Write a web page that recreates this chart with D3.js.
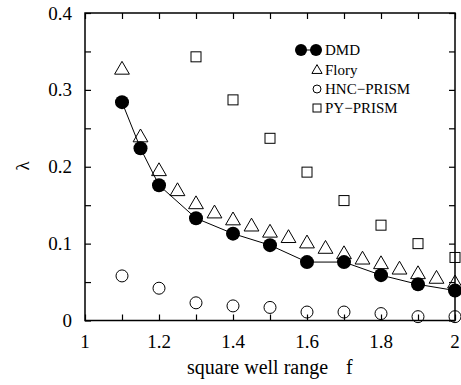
<!DOCTYPE html>
<html>
<head>
<meta charset="utf-8">
<script src="https://cdn.jsdelivr.net/npm/d3@7"></script>
<style>
  html, body { margin: 0; padding: 0; background: #fff; overflow: hidden; }
  svg { display: block; }
  text { font-family: "Liberation Serif", "DejaVu Serif", serif; fill: #000; }
</style>
</head>
<body>
<div id="plot"></div>
<script>
// data
const dmdX = [1.1, 1.15, 1.2, 1.3, 1.4, 1.5, 1.6, 1.7, 1.8, 1.9, 2.0];
const dmdY = [0.284, 0.224, 0.176, 0.133, 0.113, 0.098, 0.076, 0.076, 0.059, 0.047, 0.039];

const floryX = [1.1, 1.15, 1.2, 1.25, 1.3, 1.35, 1.4, 1.45, 1.5, 1.55, 1.6, 1.65, 1.7, 1.75, 1.8, 1.85, 1.9, 1.95, 2.0];
const floryY = [0.326, 0.238, 0.194, 0.168, 0.151, 0.139, 0.130, 0.122, 0.114, 0.107, 0.100, 0.093, 0.086, 0.079, 0.073, 0.066, 0.060, 0.054, 0.048];

const hncX = [1.1, 1.2, 1.3, 1.4, 1.5, 1.6, 1.7, 1.8, 1.9, 2.0];
const hncY = [0.058, 0.042, 0.023, 0.019, 0.017, 0.011, 0.011, 0.009, 0.005, 0.005];

const pyX = [1.3, 1.4, 1.5, 1.6, 1.7, 1.8, 1.9, 2.0];
const pyY = [0.343, 0.287, 0.237, 0.193, 0.156, 0.124, 0.100, 0.082];

const xTickLabels = [1, 1.2, 1.4, 1.6, 1.8, 2];
const yTickLabels = [0, 0.1, 0.2, 0.3, 0.4];
const legendNames = ["DMD", "Flory", "HNC\u2212PRISM", "PY\u2212PRISM"];

const width = 461, height = 385;
const margin = { top: 13, right: 6, bottom: 64.5, left: 85 };
const innerWidth = width - margin.left - margin.right;
const innerHeight = height - margin.top - margin.bottom;

const svg = d3.select("#plot").append("svg")
    .attr("width", width)
    .attr("height", height);

const g = svg.append("g")
    .attr("transform", `translate(${margin.left},${margin.top})`);

const x = d3.scaleLinear().domain([1, 2]).range([0, innerWidth]);
const y = d3.scaleLinear().domain([0, 0.4]).range([innerHeight, 0]);

// frame
g.append("rect")
    .attr("width", innerWidth)
    .attr("height", innerHeight)
    .attr("fill", "none")
    .attr("stroke", "#000")
    .attr("stroke-width", 1.5);

const xTicks = d3.range(1, 2.001, 0.1);
const yTicks = d3.range(0, 0.4001, 0.05);
const tickLen = 6;

// inward ticks on all four sides, labels drawn separately
function styleAxis(sel) {
    sel.select(".domain").remove();
    sel.selectAll(".tick text").remove();
    sel.selectAll(".tick line").attr("stroke", "#000").attr("stroke-width", 1.2);
}

g.append("g")
    .attr("transform", `translate(0,${innerHeight})`)
    .call(d3.axisBottom(x).tickValues(xTicks).tickSize(-tickLen))
    .call(styleAxis);
g.append("g")
    .call(d3.axisTop(x).tickValues(xTicks).tickSize(-tickLen))
    .call(styleAxis);
g.append("g")
    .call(d3.axisLeft(y).tickValues(yTicks).tickSize(-tickLen))
    .call(styleAxis);
g.append("g")
    .attr("transform", `translate(${innerWidth},0)`)
    .call(d3.axisRight(y).tickValues(yTicks).tickSize(-tickLen))
    .call(styleAxis);

// tick labels
g.selectAll(".xlab")
    .data(xTickLabels)
    .enter()
    .append("text")
    .attr("x", d => x(d))
    .attr("y", innerHeight + 27)
    .attr("text-anchor", "middle")
    .style("font-size", "19px")
    .text(d => d);

g.selectAll(".ylab")
    .data(yTickLabels)
    .enter()
    .append("text")
    .attr("x", -13)
    .attr("y", d => y(d) + 6.5)
    .attr("text-anchor", "end")
    .style("font-size", "19px")
    .text(d => d);

// axis titles
svg.append("text")
    .attr("x", 187)
    .attr("y", 374)
    .style("font-size", "20px")
    .text("square well range");
svg.append("text")
    .attr("x", 346)
    .attr("y", 374)
    .style("font-size", "20px")
    .text("f");

svg.append("text")
    .attr("transform", `translate(29,166) rotate(-90)`)
    .attr("text-anchor", "middle")
    .style("font-size", "19px")
    .text("\u03bb");

const tri = d3.symbol().type(d3.symbolTriangle);

// HNC open circles
g.selectAll(".hnc")
    .data(hncX.map((d, i) => ({ x: d, y: hncY[i] })))
    .enter()
    .append("circle")
    .attr("cx", d => x(d.x))
    .attr("cy", d => y(d.y))
    .attr("r", 6)
    .attr("fill", "none")
    .attr("stroke", "#000")
    .attr("stroke-width", 1);

// PY open squares
g.selectAll(".py")
    .data(pyX.map((d, i) => ({ x: d, y: pyY[i] })))
    .enter()
    .append("rect")
    .attr("x", d => x(d.x) - 5)
    .attr("y", d => y(d.y) - 5)
    .attr("width", 10)
    .attr("height", 10)
    .attr("fill", "none")
    .attr("stroke", "#000")
    .attr("stroke-width", 1);

// Flory open triangles
g.selectAll(".flory")
    .data(floryX.map((d, i) => ({ x: d, y: floryY[i] })))
    .enter()
    .append("path")
    .attr("d", tri.size(95))
    .attr("transform", d => `translate(${x(d.x)},${y(d.y)})`)
    .attr("fill", "none")
    .attr("stroke", "#000")
    .attr("stroke-width", 1);

// DMD line + filled circles
g.append("path")
    .datum(dmdX.map((d, i) => ({ x: d, y: dmdY[i] })))
    .attr("fill", "none")
    .attr("stroke", "#000")
    .attr("stroke-width", 1)
    .attr("d", d3.line().x(d => x(d.x)).y(d => y(d.y)));

g.selectAll(".dmd")
    .data(dmdX.map((d, i) => ({ x: d, y: dmdY[i] })))
    .enter()
    .append("circle")
    .attr("cx", d => x(d.x))
    .attr("cy", d => y(d.y))
    .attr("r", 7)
    .attr("fill", "#000");

// legend
const leg = svg.append("g");
const legY = [50, 70, 89, 108];
const legTextX = 325;

leg.append("line")
    .attr("x1", 301).attr("x2", 316)
    .attr("y1", legY[0]).attr("y2", legY[0])
    .attr("stroke", "#000");
[301, 316].forEach(cx => {
    leg.append("circle").attr("cx", cx).attr("cy", legY[0]).attr("r", 6).attr("fill", "#000");
});
leg.append("path")
    .attr("d", d3.symbol().type(d3.symbolTriangle).size(45)())
    .attr("transform", `translate(317,${legY[1] + 0.5})`)
    .attr("fill", "none").attr("stroke", "#000");
leg.append("circle")
    .attr("cx", 317).attr("cy", legY[2]).attr("r", 4)
    .attr("fill", "none").attr("stroke", "#000");
leg.append("rect")
    .attr("x", 313).attr("y", legY[3] - 4).attr("width", 8).attr("height", 8)
    .attr("fill", "none").attr("stroke", "#000");

leg.selectAll(".legtext")
    .data(legendNames)
    .enter()
    .append("text")
    .attr("x", legTextX)
    .attr("y", (d, i) => legY[i] + 5)
    .style("font-size", "15px")
    .text(d => d);
</script>
</body>
</html>
